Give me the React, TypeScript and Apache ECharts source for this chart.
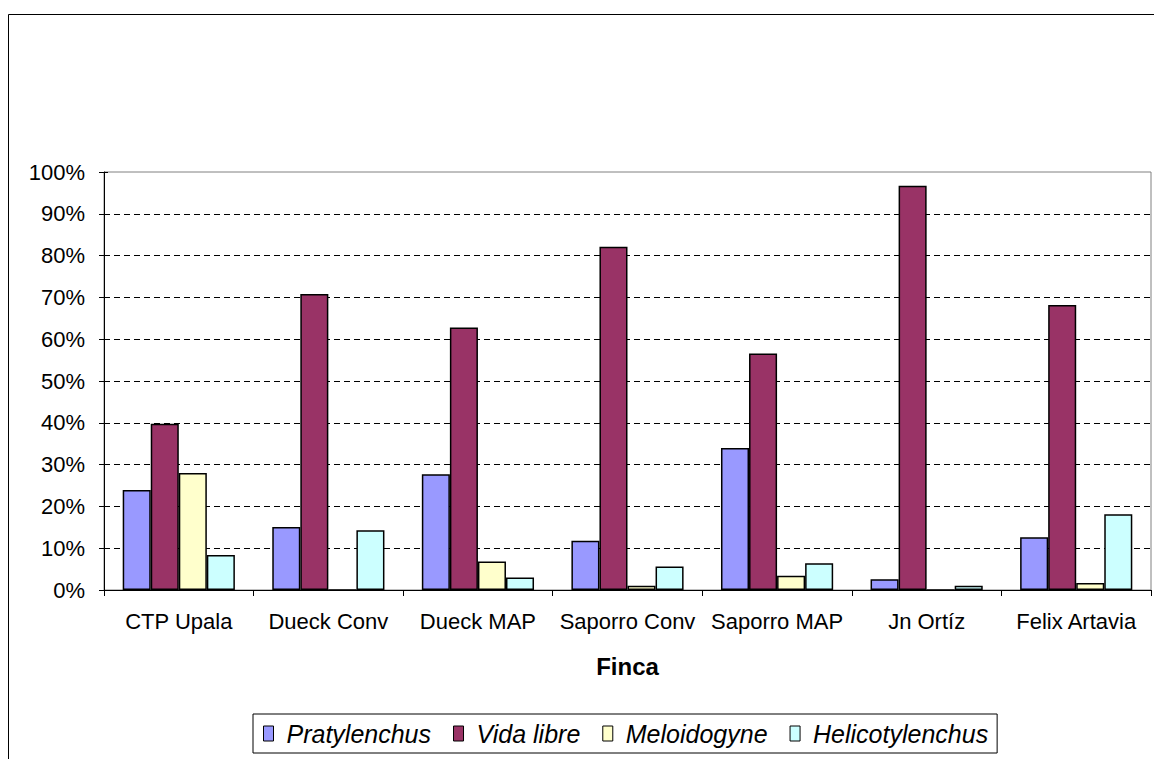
import React, { useEffect, useRef } from "react";
import * as echarts from "echarts";

const categories = ["CTP Upala", "Dueck Conv", "Dueck MAP", "Saporro Conv", "Saporro MAP", "Jn Ortíz", "Felix Artavia"];
const pratylenchus = [0.239, 0.151, 0.277, 0.118, 0.340, 0.026, 0.126];
const vidaLibre = [0.398, 0.708, 0.628, 0.821, 0.566, 0.967, 0.682];
const meloidogyne = [0.280, 0, 0.068, 0.010, 0.034, 0, 0.017];
const helicotylenchus = [0.084, 0.143, 0.030, 0.056, 0.064, 0.010, 0.181];
const seriesNames = ["Pratylenchus", "Vida libre", "Meloidogyne", "Helicotylenchus"];
const seriesColors = ["#9999FF", "#993366", "#FFFFCC", "#CCFFFF"];

const FONT = "'Liberation Sans', Arial, sans-serif";

export default function App() {
  const ref = useRef<HTMLDivElement>(null);
  useEffect(() => {
    document.body.style.margin = "0";
    const chart = echarts.init(ref.current!, undefined, { renderer: "svg" });
    const dataSets = [pratylenchus, vidaLibre, meloidogyne, helicotylenchus];
    const yBase = {
      type: "value" as const,
      min: 0,
      max: 1,
      interval: 0.1,
      position: "left" as const,
    };
    chart.setOption({
      animation: false,
      textStyle: { fontFamily: FONT },
      graphic: [
        {
          type: "rect",
          shape: { x: 8.5, y: 14.5, width: 1160, height: 800 },
          style: { fill: "none", stroke: "#000", lineWidth: 1 },
          silent: true,
          z: 0,
        },
      ],
      grid: {
        left: 104,
        top: 172,
        right: 3,
        bottom: 169,
        show: true,
        borderColor: "#808080",
        borderWidth: 1,
        backgroundColor: "transparent",
      },
      legend: {
        data: seriesNames,
        left: 253,
        top: 714,
        orient: "horizontal",
        itemWidth: 10,
        itemHeight: 15,
        itemGap: 22,
        padding: [7, 9, 7, 10],
        borderColor: "#000",
        borderWidth: 1,
        icon: "rect",
        textStyle: {
          fontFamily: FONT,
          fontSize: 25,
          fontStyle: "italic",
          color: "#000",
          padding: [0, 0, 0, 8],
        },
        itemStyle: { borderColor: "#000", borderWidth: 1 },
      },
      xAxis: {
        type: "category",
        data: categories,
        name: "Finca",
        nameLocation: "middle",
        nameGap: 64,
        nameTextStyle: { fontFamily: FONT, fontSize: 24, fontWeight: "bold", color: "#000" },
        axisLine: { show: true, lineStyle: { color: "#000", width: 1 } },
        axisTick: { show: true, interval: 0, alignWithLabel: false, length: 6, lineStyle: { color: "#000" } },
        axisLabel: { fontFamily: FONT, fontSize: 22, color: "#000", margin: 20, interval: 0 },
        splitLine: { show: false },
      },
      yAxis: [
        {
          ...yBase,
          axisLine: { show: true, lineStyle: { color: "#000", width: 1 } },
          axisTick: { show: true, length: 5, lineStyle: { color: "#000" } },
          axisLabel: {
            fontFamily: FONT,
            fontSize: 22,
            color: "#000",
            margin: 19,
            formatter: (v: number) => Math.round(v * 100) + "%",
          },
          splitLine: {
            show: true,
            showMinLine: false,
            showMaxLine: false,
            lineStyle: { color: "#000", type: [6, 4], width: 1 },
          },
        },
        {
          ...yBase,
          axisLine: { show: false },
          axisTick: { show: true, inside: true, length: 4, lineStyle: { color: "#000" } },
          axisLabel: { show: false },
          splitLine: { show: false },
        },
      ],
      series: seriesNames.map((name, i) => ({
        name,
        type: "bar",
        data: dataSets[i],
        yAxisIndex: 0,
        barGap: "0%",
        barCategoryGap: "25%",
        itemStyle: { color: seriesColors[i], borderColor: "#000", borderWidth: 1.5 },
        emphasis: { disabled: true },
      })),
    });
    return () => chart.dispose();
  }, []);
  return <div ref={ref} style={{ width: 1154, height: 759 }} />;
}
